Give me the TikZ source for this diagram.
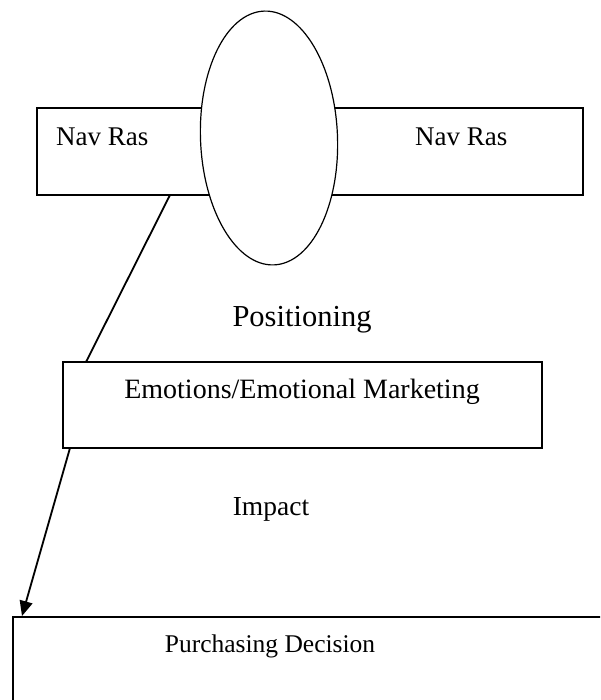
\documentclass[tikz,border=0pt]{standalone}
\usepackage{fontspec}
\setmainfont{Liberation Serif}
\usetikzlibrary{arrows.meta,shapes.geometric}
\begin{document}
\begin{tikzpicture}[x=1pt,y=-1pt,
  boxline/.style={draw=black,line width=1.4pt},
  lbl/.style={inner sep=0pt,anchor=base,text=black},
  conn/.style={draw=black,line width=1.8pt}]
\useasboundingbox (0,0) rectangle (600,700);
\clip (0,0) rectangle (600,700);
% top rectangle
\node[boxline,rectangle,inner sep=0pt,minimum width=546pt,minimum height=87pt] (top) at (310,151.5) {};
% ellipse over it
\node[draw=black,line width=1.2pt,ellipse,fill=white,inner sep=0pt,minimum width=137pt,minimum height=254pt,rotate=2.25] (ell) at (269,138) {};
\node[lbl,anchor=base west,font=\fontsize{27}{30}\selectfont] (nav1) at (56,146) {Nav Ras};
\node[lbl,anchor=base west,font=\fontsize{27}{30}\selectfont] (nav2) at (415,146) {Nav Ras};
\node[lbl,font=\fontsize{30.5}{34}\selectfont] (pos) at (302,326) {Positioning};
% emotions box
\node[boxline,rectangle,inner sep=0pt,minimum width=479pt,minimum height=86pt] (emo) at (302.5,405) {};
\node[lbl,font=\fontsize{28}{32}\selectfont] (emotxt) at (302,398) {Emotions/Emotional Marketing};
\node[lbl,font=\fontsize{27.5}{31}\selectfont] (imp) at (271,515) {Impact};
% purchasing box (runs off the page)
\node[draw=black,line width=2pt,rectangle,inner sep=0pt,minimum width=640pt,minimum height=200pt,anchor=north west] (pur) at (12,616) {};
\node[lbl,font=\fontsize{25.5}{29}\selectfont] (purtxt) at (270,652) {Purchasing Decision};
% connectors
\coordinate (c1s) at (170,195);
\coordinate (c1e) at (86,362);
\draw[conn] (c1s) -- (c1e);
\coordinate (c2s) at (70,448);
\coordinate (c2e) at (22,616);
\draw[conn,-{Triangle[length=15pt,width=13pt]}] (c2s) -- (c2e);
\end{tikzpicture}
\end{document}
